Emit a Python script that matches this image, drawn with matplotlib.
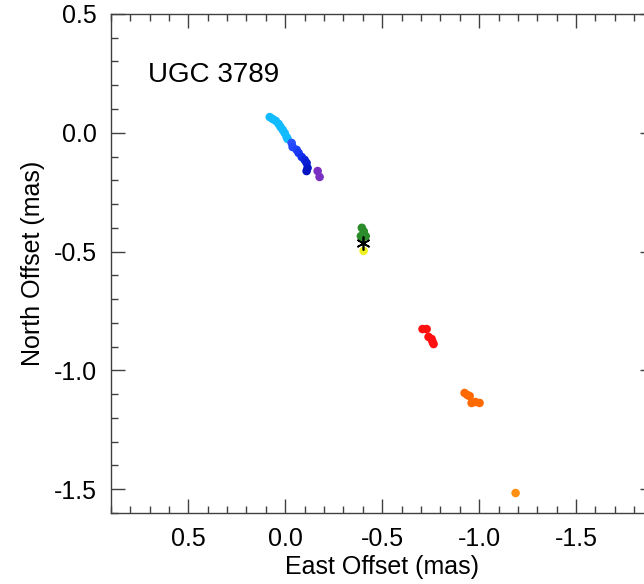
import matplotlib
matplotlib.use("Agg")
import matplotlib.pyplot as plt
from matplotlib.ticker import MultipleLocator, FormatStrFormatter

plt.rcParams['font.family'] = ['Liberation Sans', 'DejaVu Sans']
plt.rcParams['axes.unicode_minus'] = False

# maser spot offsets (mas), grouped by velocity colour
cyan_east = [0.080, 0.065, 0.049, 0.034, 0.024, 0.013, 0.003, -0.007, -0.012]
cyan_north = [0.066, 0.058, 0.050, 0.037, 0.024, 0.012, -0.001, -0.018, -0.026]

blue_east = [-0.033, -0.038, -0.059, -0.069, -0.085, -0.100, -0.110, -0.115, -0.110]
blue_north = [-0.043, -0.060, -0.072, -0.085, -0.102, -0.114, -0.127, -0.148, -0.161]

purple_east = [-0.167, -0.177]
purple_north = [-0.161, -0.186]

green_east = [-0.395, -0.405, -0.390, -0.415, -0.400]
green_north = [-0.400, -0.415, -0.435, -0.435, -0.440]

yellow_east = [-0.404]
yellow_north = [-0.497]

red_east = [-0.708, -0.729, -0.739, -0.755, -0.760, -0.765]
red_north = [-0.826, -0.826, -0.859, -0.868, -0.880, -0.889]

orange_east = [-0.925, -0.940, -0.951, -0.961, -0.981, -1.002]
orange_north = [-1.095, -1.104, -1.108, -1.137, -1.133, -1.137]

far_east = [-1.188]
far_north = [-1.516]

center_east = -0.40
center_north = -0.465

# blue-shifted spots darken towards the purple ones
blue_shades = ["#2a50ff", "#2448ff", "#1e40fa", "#1838f4", "#1230ec",
               "#0c26e0", "#081ed4", "#0418c8", "#0414c0"]

groups = [
    (cyan_east, cyan_north, "#12baff"),
    (blue_east, blue_north, blue_shades),
    (purple_east, purple_north, "#7a30c0"),
    (green_east, green_north, "#2a8c2a"),
    (yellow_east, yellow_north, "#eef020"),
    (red_east, red_north, "#ff1010"),
    (orange_east, orange_north, "#ff6a00"),
    (far_east, far_north, "#ff9010"),
]

fig = plt.figure(figsize=(6.44, 5.84), dpi=100)
ax = fig.add_axes([0.172, 0.1216, 0.843, 0.8545])

for e, n, c in groups:
    ax.scatter(e, n, s=38, c=c, edgecolors='none', zorder=2)
ax.plot([center_east], [center_north], marker=(6, 2, 0), color='black',
        markersize=10, markeredgewidth=1.2, linestyle='none', zorder=3)

ax.set_xlim(0.9, -1.9)
ax.set_ylim(-1.6, 0.5)

ax.xaxis.set_major_locator(MultipleLocator(0.5))
ax.xaxis.set_minor_locator(MultipleLocator(0.1))
ax.yaxis.set_major_locator(MultipleLocator(0.5))
ax.yaxis.set_minor_locator(MultipleLocator(0.1))
ax.xaxis.set_major_formatter(FormatStrFormatter('%.1f'))
ax.yaxis.set_major_formatter(FormatStrFormatter('%.1f'))

ax.tick_params(which='both', direction='in', top=True, right=True,
               color='#404040', width=1)
ax.tick_params(which='major', length=10, labelsize=18, pad=10)
ax.tick_params(which='minor', length=5)
for s in ax.spines.values():
    s.set_color('#404040')
    s.set_linewidth(1)

ax.set_xlabel('East Offset (mas)', fontsize=18, labelpad=3)
ax.set_ylabel('North Offset (mas)', fontsize=18, labelpad=6)

ax.text(0.068, 0.864, 'UGC 3789', transform=ax.transAxes,
        fontsize=20, va='baseline', ha='left')

fig.savefig('out.png', dpi=100)
